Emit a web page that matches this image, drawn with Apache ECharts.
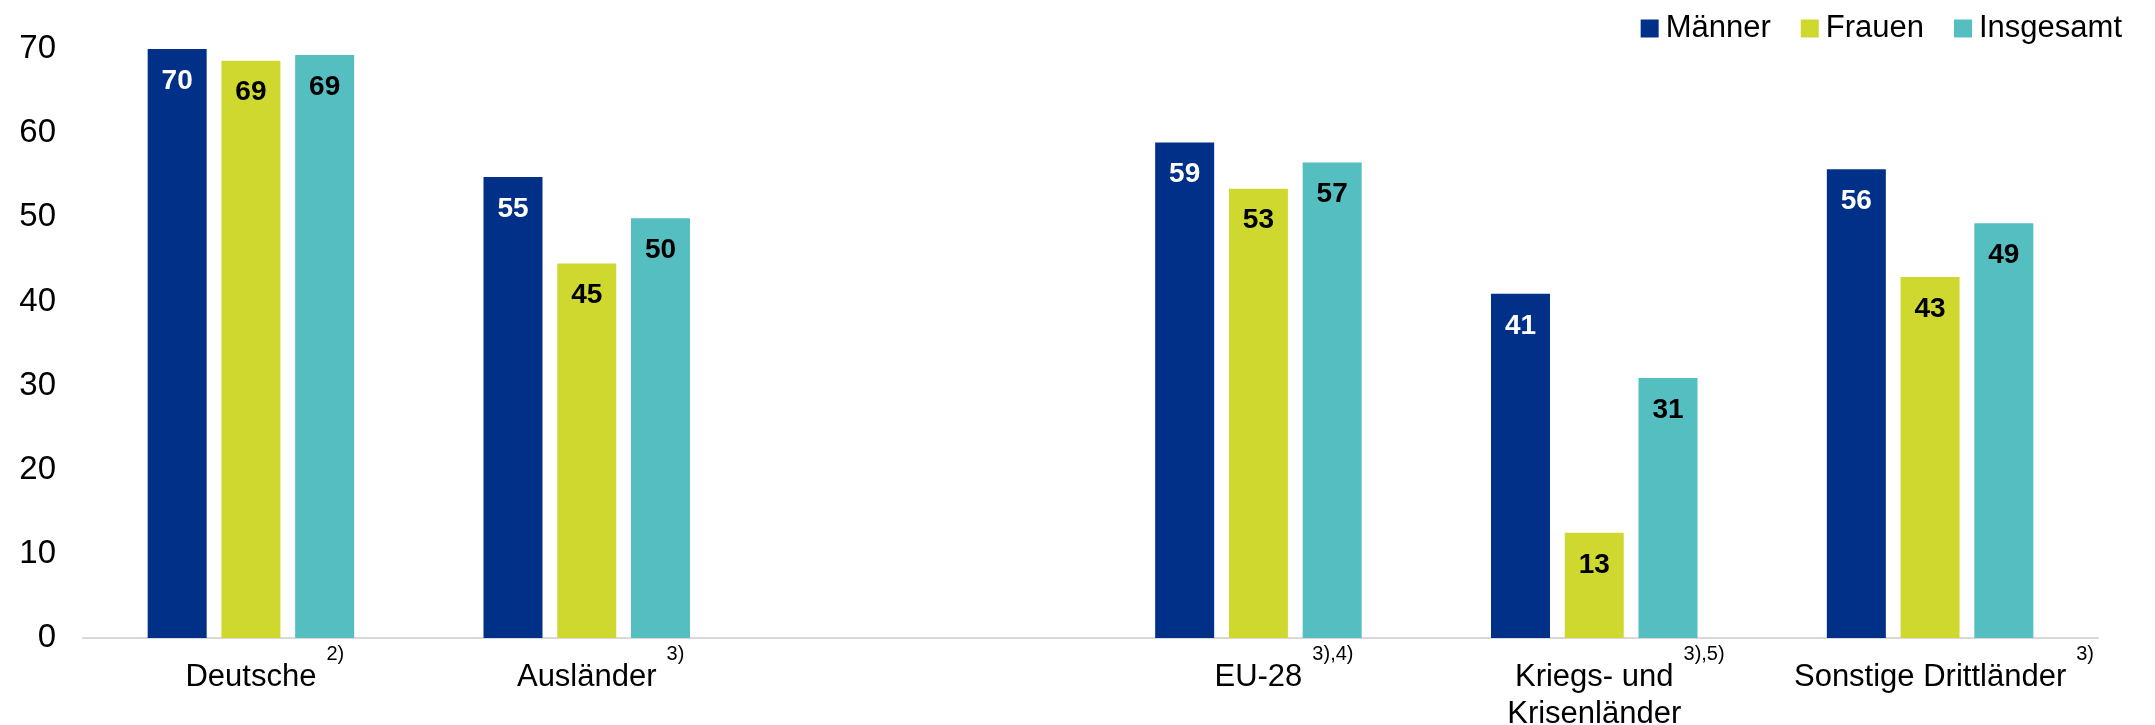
<!DOCTYPE html>
<html>
<head>
<meta charset="utf-8">
<script src="https://cdn.jsdelivr.net/npm/echarts@6/dist/echarts.min.js"></script>
<style>
  html, body { margin: 0; padding: 0; background: #fff; }
  #chart { width: 2155px; height: 725px; }
</style>
</head>
<body>
<div id="chart"></div>
<script>
// Kategorien (leere Lücke zwischen Ausländer und EU-28)
var categories = ['Deutsche', 'Ausländer', '', 'EU-28', 'Kriegs- und\nKrisenländer', 'Sonstige Drittländer'];
var footnotes = ['2)', '3)', '', '3),4)', '3),5)', '3)'];
var seriesNames = ['Männer', 'Frauen', 'Insgesamt'];
var maenner = [70, 54.8, null, 58.9, 40.9, 55.7];
var frauen = [68.6, 44.5, null, 53.4, 12.5, 42.9];
var insgesamt = [69.3, 49.9, null, 56.5, 30.9, 49.3];
var yMax = 70, yStep = 10;

var FONT = '"Liberation Sans", Arial, sans-serif';
var colors = ['#003087', '#cfd82e', '#55bec0'];
var labelColors = ['#ffffff', '#000000', '#000000'];

// breite eines textes messen
var ctx = document.createElement('canvas').getContext('2d');
function measure (text, size) {
  ctx.font = size + 'px ' + FONT;
  return ctx.measureText(text).width;
}

var supGap = 10;
var rich = {
  main: { fontSize: 31, lineHeight: 37, padding: [35, 0, 0, 0], color: '#000', fontFamily: FONT },
  main2: { fontSize: 31, lineHeight: 37, padding: [36, 0, 0, 0], color: '#000', fontFamily: FONT },
  sup: { fontSize: 20, lineHeight: 20, verticalAlign: 'top', padding: [3, 0, 0, supGap], color: '#000', fontFamily: FONT }
};
footnotes.forEach(function (n, i) {
  rich['pad' + i] = { width: n ? measure(n, 20) + supGap : 0, fontSize: 20, lineHeight: 20 };
});

function catLabel (value, idx) {
  if (!value) return '';
  var lines = value.split('\n');
  var out = '{pad' + idx + '| }{main|' + lines[0] + '}{sup|' + footnotes[idx] + '}';
  for (var i = 1; i < lines.length; i++) {
    out += '\n{main2|' + lines[i] + '}';
  }
  return out;
}

var chart = echarts.init(document.getElementById('chart'));
var option = {
  animation: false,
  legend: {
    data: seriesNames,
    right: 28,
    top: 8,
    icon: 'rect',
    itemWidth: 18,
    itemHeight: 18,
    itemGap: 30,
    textStyle: { fontSize: 31, color: '#000', fontFamily: FONT, padding: [0, 0, 0, 2] }
  },
  grid: {
    left: 83,
    right: 57,
    top: 49,
    bottom: 87,
    containLabel: false,
    outerBoundsMode: 'none'
  },
  xAxis: {
    type: 'category',
    data: categories,
    axisLine: { lineStyle: { color: '#d9d9d9', width: 2 } },
    axisTick: { show: false },
    axisLabel: {
      interval: 0,
      margin: 3,
      formatter: catLabel,
      rich: rich
    }
  },
  yAxis: {
    type: 'value',
    min: 0,
    max: yMax,
    interval: yStep,
    axisLine: { show: false },
    axisTick: { show: false },
    splitLine: { show: false },
    axisLabel: { fontSize: 33, color: '#000', fontFamily: FONT, margin: 27 }
  },
  series: [maenner, frauen, insgesamt].map(function (d, i) {
    return {
      name: seriesNames[i],
      type: 'bar',
      data: d,
      barWidth: 59,
      barGap: '25%',
      itemStyle: { color: colors[i] },
      label: {
        show: true,
        position: 'insideTop',
        distance: 18,
        fontSize: 28,
        fontWeight: 'bold',
        fontFamily: FONT,
        color: labelColors[i],
        formatter: function (p) { return p.value == null ? '' : Math.round(p.value); }
      }
    };
  })
};
chart.setOption(option);
</script>
</body>
</html>
